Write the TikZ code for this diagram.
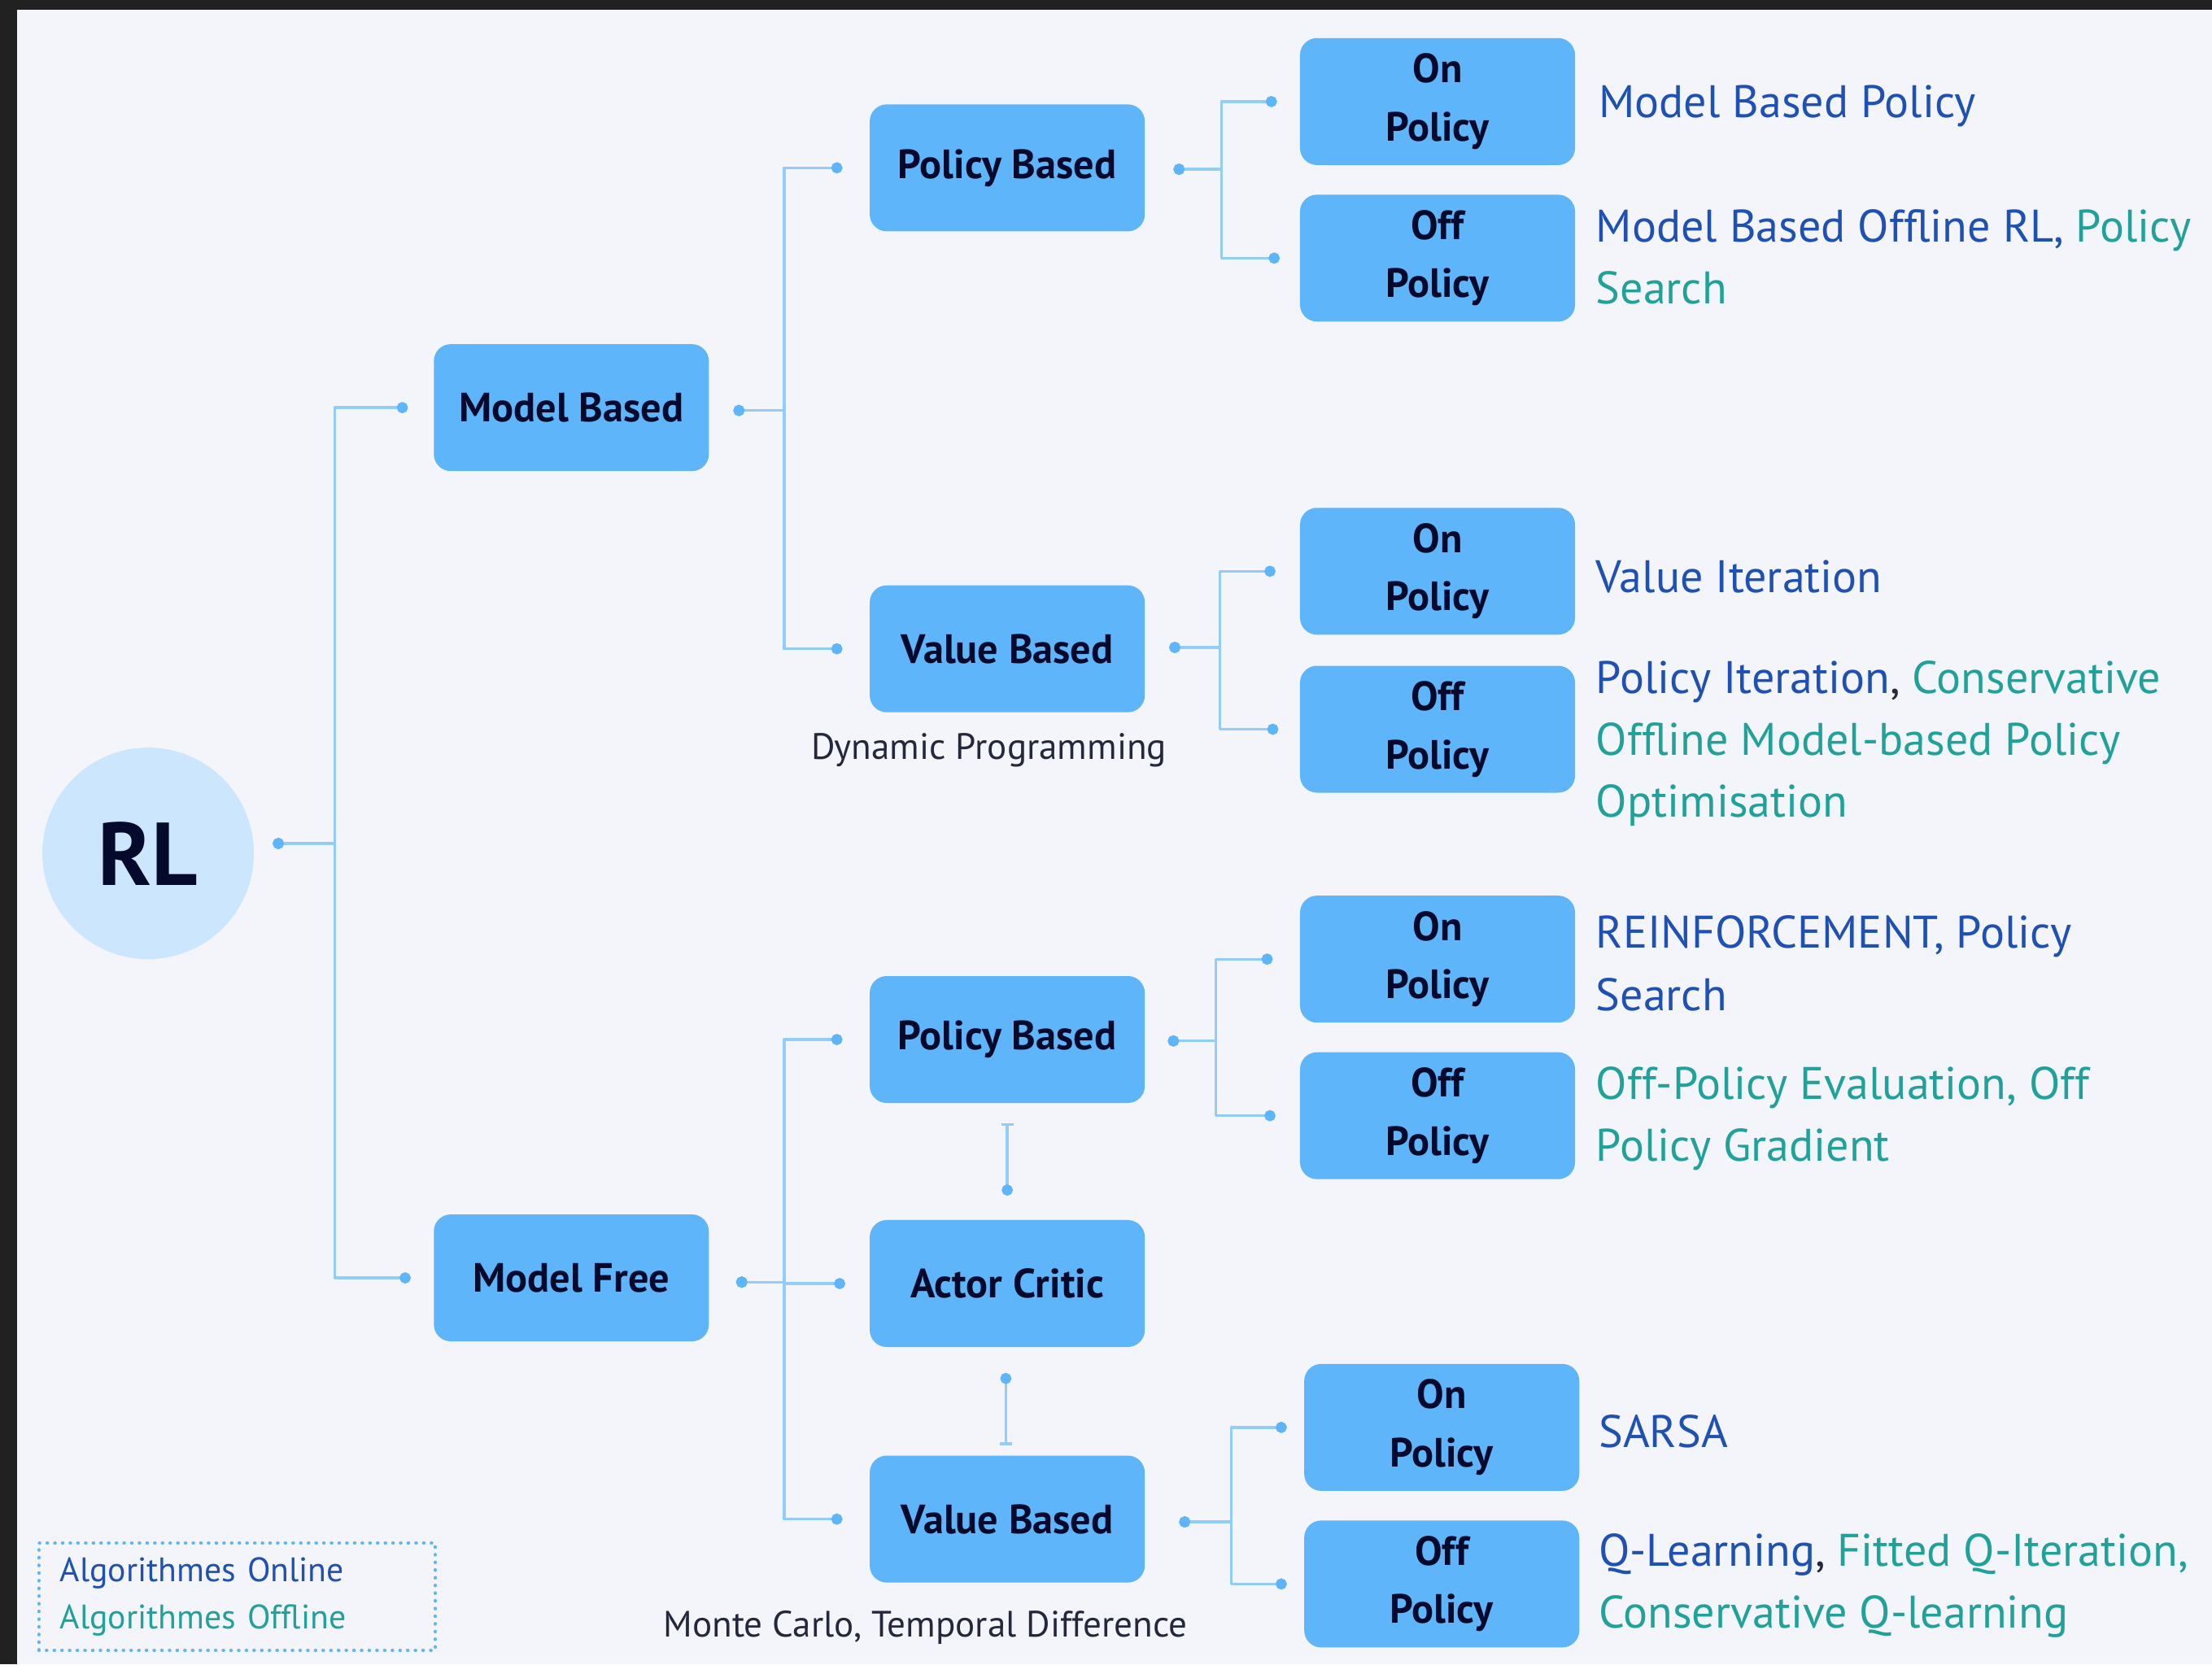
\documentclass[tikz,border=0pt]{standalone}
\usepackage{xcolor}
\usepackage{fontspec}
\setmainfont{PT Sans}
\usepackage{tikz}
\usetikzlibrary{arrows.meta,calc}

\definecolor{bgcol}{HTML}{F4F5FB}
\definecolor{framecol}{HTML}{212121}
\definecolor{boxblue}{HTML}{5EB5FA}
\definecolor{rlblue}{HTML}{CCE7FD}
\definecolor{navy}{HTML}{050A2C}
\definecolor{online}{HTML}{1F50B3}
\definecolor{offline}{HTML}{20A199}
\definecolor{capgray}{HTML}{25283A}
\definecolor{linkblue}{HTML}{92CCF8}
\definecolor{dotblue}{HTML}{5EB5FA}

\newcommand{\boxfont}{\bfseries\fontsize{16.5}{23.5}\selectfont}
\newcommand{\descfont}{\fontsize{18.4}{25}\selectfont}
\newcommand{\capfont}{\fontsize{14.8}{18}\selectfont}
\newcommand{\keyfont}{\fontsize{13.7}{19.3}\selectfont}
\newcommand{\off}[1]{\textcolor{offline}{#1}}

\begin{document}
\begin{tikzpicture}[x=0.02cm,y=-0.02cm,line join=round,line cap=round,
    box/.style={rectangle,rounded corners=0.24cm,fill=boxblue,minimum width=3.9cm,minimum height=1.8cm,
      align=center,font=\boxfont,text=navy,inner sep=0pt},
    desc/.style={anchor=west,align=left,font=\descfont,text=online,inner sep=0pt},
    captext/.style={font=\capfont,text=capgray,inner sep=0pt},
    link/.style={draw=linkblue,line width=1.1pt,{Circle[length=4.5pt,color=dotblue]}-{Circle[length=4.5pt,color=dotblue]}},
    vlinkdown/.style={draw=linkblue,line width=1.1pt,{Bar[width=5pt]}-{Circle[length=4.5pt,color=dotblue]}},
    vlinkup/.style={draw=linkblue,line width=1.1pt,{Circle[length=4.5pt,color=dotblue]}-{Bar[width=5pt]}}]

      \fill[bgcol] (0,0) rectangle (1568,1180);
      \fill[framecol] (0,0) rectangle (1568,7);
      \fill[framecol] (0,0) rectangle (12,1180);
      \useasboundingbox (0,0) rectangle (1568,1180);

      \node[circle,fill=rlblue,minimum size=3cm,inner sep=0pt,text=navy,font=\bfseries\fontsize{36}{36}\selectfont] (rl) at (105,605) {RL};

      \node[box] (mb) at (405,289) {Model Based};
      \node[box] (mf) at (405,906) {Model Free};

      \node[box] (pbA) at (714,119) {Policy Based};
      \node[box] (vbA) at (714,460) {Value Based};
      \node[box] (pbB) at (714,737) {Policy Based};
      \node[box] (ac) at (714,910) {Actor Critic};
      \node[box] (vbB) at (714,1077) {Value Based};

      \node[box] (onA) at (1019,72) {On\\Policy};
      \node[box] (offA) at (1019,183) {Off\\Policy};
      \node[box] (onB) at (1019,405) {On\\Policy};
      \node[box] (offB) at (1019,517) {Off\\Policy};
      \node[box] (onC) at (1019,680) {On\\Policy};
      \node[box] (offC) at (1019,791) {Off\\Policy};
      \node[box] (onD) at (1022,1012) {On\\Policy};
      \node[box] (offD) at (1022,1123) {Off\\Policy};

      \node[captext] (dp) at (701,532) {Dynamic Programming};
      \node[captext] (mc) at (656,1154) {Monte Carlo, Temporal Difference};

      \node[desc] (tA) at (1133,75) {Model Based Policy};
      \node[desc] (tB) at (1131,182) {Model Based Offline RL, \off{Policy}\\\off{Search}};
      \node[desc] (tC) at (1131,409) {Value Iteration};
      \node[desc] (tD) at (1131,527) {Policy Iteration\textcolor{capgray}{,} \off{Conservative}\\\off{Offline Model-based Policy}\\\off{Optimisation}};
      \node[desc] (tE) at (1131,683) {REINFORCEMENT, Policy\\Search};
      \node[desc,text=offline] (tF) at (1131,793) {Off-Policy Evaluation, Off\\Policy Gradient};
      \node[desc] (tG) at (1133,1015) {SARSA};
      \node[desc] (tH) at (1133,1124) {Q-Learning\textcolor{capgray}{,} \off{Fitted Q-Iteration,}\\\off{Conservative Q-learning}};

      \node[draw=dotblue,line width=1.4pt,dash pattern=on 0.1pt off 3pt,minimum width=5.62cm,minimum height=1.52cm,
        text width=5.02cm,inner xsep=0.3cm,align=left,font=\keyfont] (key) at (168,1132)
        {\textcolor{online}{Algorithmes Online}\\\textcolor{offline}{Algorithmes Offline}};

      \draw[link] ($(rl.east)+(13,-7)$) -- ++(44,0) |- ($(mb.west)+(-18,0)$);
      \draw[link] ($(rl.east)+(13,-7)$) -- ++(44,0) |- ($(mf.west)+(-16,0)$);

      \draw[link] ($(mb.east)+(17,2)$) -- ++(36,0) |- ($(pbA.west)+(-19,0)$);
      \draw[link] ($(mb.east)+(17,2)$) -- ++(36,0) |- ($(vbA.west)+(-19,0)$);

      \draw[link] ($(pbA.east)+(20,1)$) -- ++(34,0) |- ($(onA.west)+(-16,0)$);
      \draw[link] ($(pbA.east)+(20,1)$) -- ++(34,0) |- ($(offA.west)+(-14,0)$);
      \draw[link] ($(vbA.east)+(17,-1)$) -- ++(36,0) |- ($(onB.west)+(-17,0)$);
      \draw[link] ($(vbA.east)+(17,-1)$) -- ++(36,0) |- ($(offB.west)+(-15,0)$);

      \draw[link] ($(mf.east)+(19,3)$) -- ++(34,0) |- ($(pbB.west)+(-19,0)$);
      \draw[link] ($(mf.east)+(19,3)$) -- ++(34,0) |- ($(ac.west)+(-17,0)$);
      \draw[link] ($(mf.east)+(19,3)$) -- ++(34,0) |- ($(vbB.west)+(-19,0)$);

      \draw[link] ($(pbB.east)+(16,1)$) -- ++(34,0) |- ($(onC.west)+(-19,0)$);
      \draw[link] ($(pbB.east)+(16,1)$) -- ++(34,0) |- ($(offC.west)+(-17,0)$);
      \draw[link] ($(vbB.east)+(24,2)$) -- ++(37,0) |- ($(onD.west)+(-12,0)$);
      \draw[link] ($(vbB.east)+(24,2)$) -- ++(37,0) |- ($(offD.west)+(-12,0)$);

      \draw[vlinkdown] ($(pbB.south)+(0,14)$) -- ($(ac.north)+(0,-17)$);
      \draw[vlinkup] ($(ac.south)+(-1,18)$) -- ($(vbB.north)+(-1,-7)$);
    \end{tikzpicture}
\end{document}
